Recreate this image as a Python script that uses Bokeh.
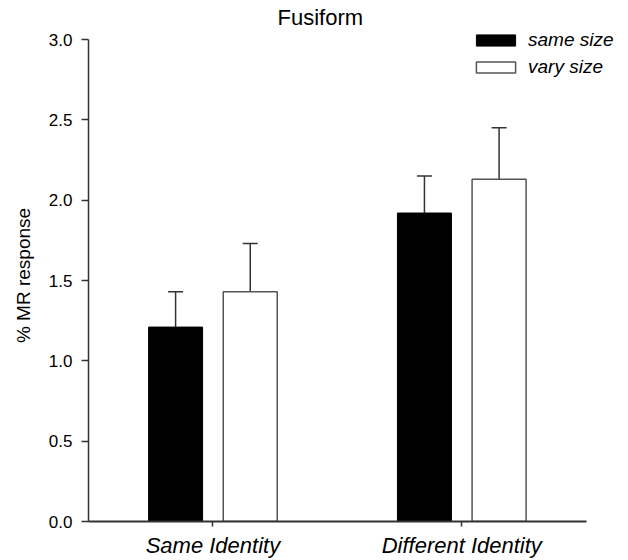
from bokeh.plotting import figure
from bokeh.models import (ColumnDataSource, Whisker, TeeHead, Legend, LegendItem,
                          FixedTicker, CustomJSTickFormatter, Range1d)
from bokeh.transform import dodge
from bokeh.embed import file_html
from bokeh.resources import INLINE

categories = ["Same Identity", "Different Identity"]
same_size = [1.21, 1.92]
same_size_err = [0.22, 0.23]
vary_size = [1.43, 2.13]
vary_size_err = [0.30, 0.32]
y_ticks = [0.0, 0.5, 1.0, 1.5, 2.0, 2.5, 3.0]
series_labels = ["same size", "vary size"]

xpos = list(range(1, len(categories) + 1))
src = ColumnDataSource(dict(
    x=xpos,
    same=same_size,
    same_up=[v + e for v, e in zip(same_size, same_size_err)],
    vary=vary_size,
    vary_up=[v + e for v, e in zip(vary_size, vary_size_err)],
))

FONT = "Liberation Sans"
Y_TOP = 3.0
PX_PER_UNIT_Y = 482 / Y_TOP  # pixel scale of the y axis

p = figure(x_range=Range1d(0.5, 2.67), y_range=Range1d(0, Y_TOP + 10 / PX_PER_UNIT_Y),
           width=628, height=560, output_backend="svg", toolbar_location=None,
           min_border_left=88, min_border_right=0, min_border_top=29, min_border_bottom=39,
           title="Fusiform")
p.outline_line_color = None
p.xgrid.visible = False
p.ygrid.visible = False
p.background_fill_color = "white"

p.title.align = "left"
p.title.offset = 189
p.title.text_font = FONT
p.title.text_font_size = "22px"
p.title.text_font_style = "normal"
p.title.text_color = "black"
p.title.standoff = 0
p.title.text_line_height = 1.0

OFF = 0.15
W = 0.217
r1 = p.vbar(x=dodge("x", -OFF), top="same", width=W, source=src,
            fill_color="black", line_color="black", line_width=1)
r2 = p.vbar(x=dodge("x", OFF), top="vary", width=W, source=src,
            fill_color="white", line_color="#555555", line_width=1.5)

for off, lo, hi in [(-OFF, "same", "same_up"), (OFF, "vary", "vary_up")]:
    w = Whisker(base=dodge("x", off), lower=lo, upper=hi, source=src,
                line_color="#333333", line_width=1.5,
                upper_head=TeeHead(size=15, line_color="#333333", line_width=1.5),
                lower_head=None)
    p.add_layout(w)

legend = Legend(items=[LegendItem(label=series_labels[0], renderers=[r1]),
                       LegendItem(label=series_labels[1], renderers=[r2])],
                location=(383, 443), orientation="vertical",
                glyph_width=49, glyph_height=14, label_height=20, spacing=5,
                label_standoff=8, padding=0, margin=0,
                border_line_color=None, background_fill_alpha=0,
                label_text_font=FONT, label_text_font_style="italic",
                label_text_font_size="19px", label_text_color="black")
p.add_layout(legend, "center")

# axes
p.yaxis.bounds = (0, Y_TOP)
p.yaxis.ticker = FixedTicker(ticks=y_ticks)
p.yaxis.formatter = CustomJSTickFormatter(code="return tick.toFixed(1);")
p.yaxis.axis_label = "% MR response"
p.yaxis.axis_label_text_font = FONT
p.yaxis.axis_label_text_font_size = "19px"
p.yaxis.axis_label_text_font_style = "normal"
p.yaxis.axis_label_text_color = "black"
p.yaxis.axis_label_standoff = 12
p.yaxis.major_label_text_font = FONT
p.yaxis.major_label_text_font_size = "17px"
p.yaxis.major_label_text_color = "black"
p.yaxis.major_label_standoff = 9
p.yaxis.major_tick_out = 7
p.yaxis.major_tick_in = 0
p.yaxis.minor_tick_out = 0
p.yaxis.minor_tick_in = 0
p.yaxis.axis_line_color = "#333333"
p.yaxis.axis_line_width = 1.5
p.yaxis.major_tick_line_color = "#333333"
p.yaxis.major_tick_line_width = 1.5

p.xaxis.bounds = (0.5, 2.5)
p.xaxis.ticker = FixedTicker(ticks=xpos)
p.xaxis.major_label_overrides = {x: c for x, c in zip(xpos, categories)}
p.xaxis.minor_tick_out = 0
p.xaxis.minor_tick_in = 0
p.xaxis.major_label_text_font = FONT
p.xaxis.major_label_text_font_size = "22px"
p.xaxis.major_label_text_font_style = "italic"
p.xaxis.major_label_text_color = "black"
p.xaxis.major_label_standoff = 6
p.xaxis.major_tick_out = 5
p.xaxis.major_tick_in = 0
p.xaxis.axis_line_color = "#333333"
p.xaxis.axis_line_width = 2
p.xaxis.major_tick_line_color = "#333333"
p.xaxis.major_tick_line_width = 1.5

open("out.html", "w").write(file_html(p, INLINE))
